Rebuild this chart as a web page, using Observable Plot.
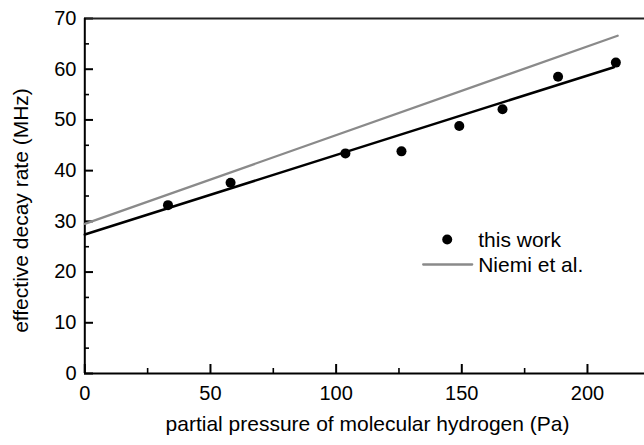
<!DOCTYPE html>
<html>
<head>
<meta charset="utf-8">
<script src="https://cdn.jsdelivr.net/npm/d3@7"></script>
<script src="https://cdn.jsdelivr.net/npm/@observablehq/plot@0.6"></script>
<style>
  html, body { margin: 0; padding: 0; background: #fff; overflow: hidden; }
  #chart { width: 644px; height: 445px; }
</style>
</head>
<body>
<div id="chart"></div>
<script>
// Measured data: "this work"
const pressure = [33.1, 58.0, 103.7, 126.0, 149.0, 166.2, 188.3, 211.3];
const decayRate = [33.2, 37.6, 43.4, 43.8, 48.8, 52.1, 58.5, 61.3];

// Linear fit of this work
const fitX = [0, 210.5];
const fitY = [27.4, 60.4];

// Niemi et al. line
const niemiX = [0, 212];
const niemiY = [29.5, 66.6];

// Axis ticks
const xMajor = [0, 50, 100, 150, 200];
const xMinor = [25, 75, 125, 175];
const yMajor = [0, 10, 20, 30, 40, 50, 60, 70];
const yMinor = [5, 15, 25, 35, 45, 55, 65];

const legendLabels = ["this work", "Niemi et al."];
const xTitle = "partial pressure of molecular hydrogen (Pa)";
const yTitle = "effective decay rate (MHz)";

const points = pressure.map((x, i) => ({x, y: decayRate[i]}));
const fit = fitX.map((x, i) => ({x, y: fitY[i]}));
const niemi = niemiX.map((x, i) => ({x, y: niemiY[i]}));

const lineShape = {draw(ctx, l) { ctx.moveTo(0, 0); ctx.lineTo(0, -l); }};
const FONT = "'Liberation Sans', Arial, Helvetica, sans-serif";

const chart = Plot.plot({
  width: 644,
  height: 445,
  marginLeft: 84,
  marginRight: 0,
  marginTop: 18,
  marginBottom: 72,
  style: {fontFamily: FONT, background: "#fff", color: "#000"},
  x: {domain: [0, 225], range: [84.3, 649.8], label: null},
  y: {domain: [0, 70], label: null},
  marks: [
    // tick labels
    Plot.axisX({ticks: xMajor, tickSize: 0, tickPadding: 12, fontSize: 20, label: null}),
    Plot.axisY({ticks: yMajor, tickSize: 0, tickPadding: 8, fontSize: 20, label: null}),
    // inward ticks
    Plot.axisX({ticks: xMajor, tickSize: -9, strokeWidth: 2, fill: "none", label: null}),
    Plot.axisX({ticks: xMinor, tickSize: -5, strokeWidth: 1.6, fill: "none", label: null}),
    Plot.axisY({ticks: yMajor, tickSize: -9, strokeWidth: 2, fill: "none", label: null}),
    Plot.axisY({ticks: yMinor, tickSize: -5, strokeWidth: 1.6, fill: "none", label: null}),
    // frame lines
    Plot.ruleY([0], {stroke: "#000", strokeWidth: 2}),
    Plot.ruleY([70], {stroke: "#222", strokeWidth: 2}),
    Plot.ruleX([0], {stroke: "#000", strokeWidth: 2}),
    // data
    Plot.line(niemi, {x: "x", y: "y", stroke: "#8a8a8a", strokeWidth: 2.3}),
    Plot.line(fit, {x: "x", y: "y", stroke: "#000", strokeWidth: 2.5}),
    Plot.dot(points, {x: "x", y: "y", r: 5, fill: "#000", stroke: "none"}),
    // axis titles
    Plot.text([xTitle], {text: d => d, frameAnchor: "bottom", textAnchor: "middle", lineAnchor: "bottom", dx: 3, dy: 57, fontSize: 21, fill: "#000"}),
    Plot.text([yTitle], {text: d => d, frameAnchor: "left", textAnchor: "middle", lineAnchor: "middle", rotate: -90, dx: -63, dy: 14.5, fontSize: 21, fill: "#000"}),
    // legend
    Plot.dot([legendLabels[0]], {frameAnchor: "top-left", dx: 362.7, dy: 221, r: 5, fill: "#000", stroke: "none"}),
    Plot.vector([legendLabels[1]], {frameAnchor: "top-left", dx: 338.7, dy: 246, length: 49, rotate: 90, anchor: "start", shape: lineShape, stroke: "#8a8a8a", strokeWidth: 2.3}),
    Plot.text([legendLabels[0]], {text: d => d, frameAnchor: "top-left", textAnchor: "start", lineAnchor: "bottom", dx: 393.7, dy: 228, fontSize: 21, fill: "#000"}),
    Plot.text([legendLabels[1]], {text: d => d, frameAnchor: "top-left", textAnchor: "start", lineAnchor: "bottom", dx: 393.7, dy: 253.7, fontSize: 21, fill: "#000"})
  ]
});
document.getElementById("chart").append(chart);
</script>
</body>
</html>
